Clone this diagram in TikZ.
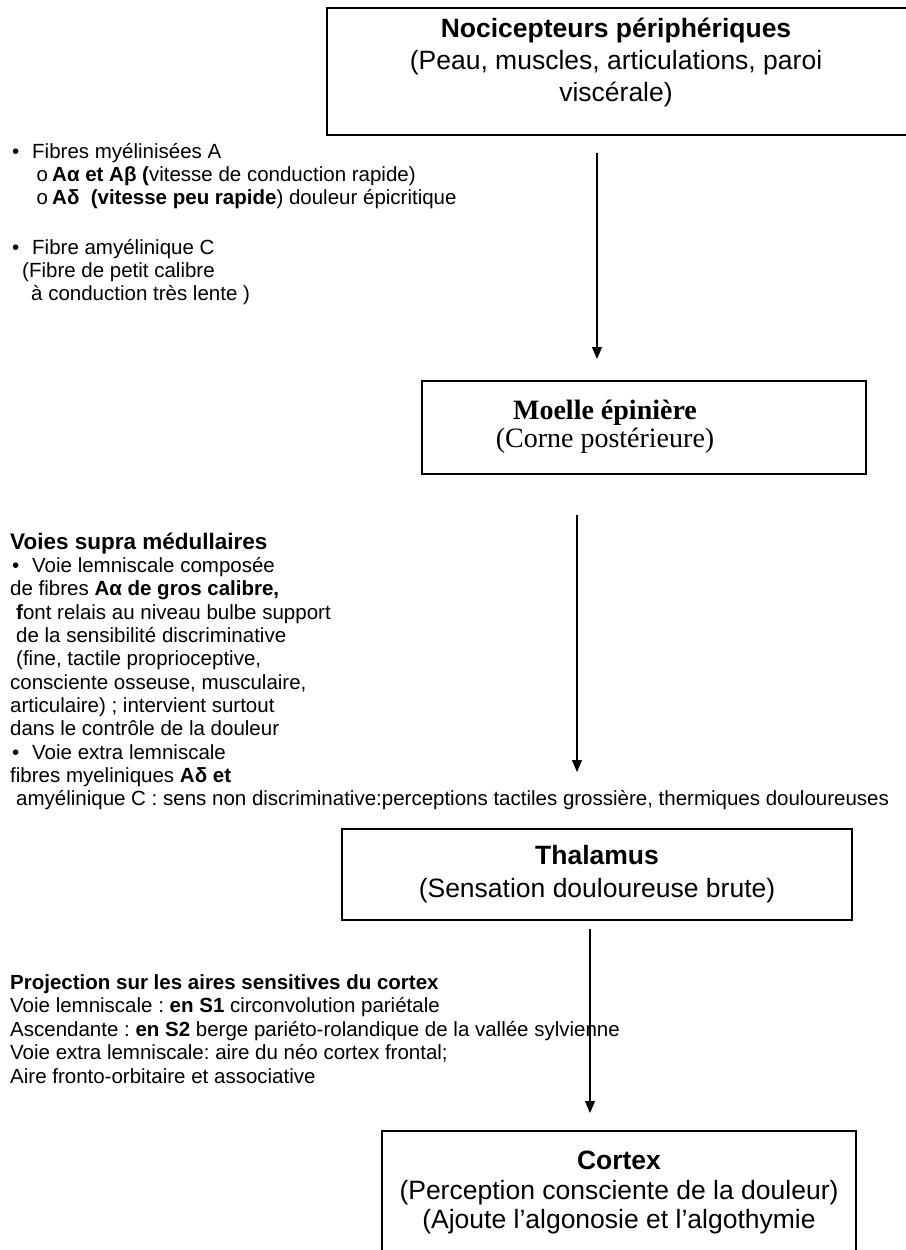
\documentclass[tikz,border=0pt]{standalone}
\usepackage{fontspec}
\setmainfont{Liberation Sans}
\newfontfamily\serifbox{Liberation Serif}
\newfontfamily\monobullet{Liberation Mono}
\usetikzlibrary{arrows.meta}
\frenchspacing

\begin{document}
\begin{tikzpicture}[x=1pt,y=-1pt,
  box/.style={draw, line width=1.6pt, inner sep=0pt, outer sep=0pt, anchor=north west},
  flow/.style={line width=1.2pt, -{Triangle[length=12pt,width=10pt]}},
  small/.style={anchor=base west, inner sep=0pt, font=\fontsize{20.5}{23}\selectfont},
  smallbold/.style={small, font=\bfseries\fontsize{20.5}{23}\selectfont},
  sub/.style={small, font=\monobullet\fontsize{20.5}{23}\selectfont},
  boxtxt/.style={anchor=base, inner sep=0pt, font=\fontsize{26.5}{30}\selectfont},
  moelletxt/.style={anchor=base, inner sep=0pt, font=\serifbox\fontsize{28}{28}\selectfont},
]
\useasboundingbox (0,0) rectangle (905,1250);

% ---- boxes of the pain pathway ----
\node[box, minimum width=583pt, minimum height=127pt] (noci) at (327,8) {};
\node[boxtxt, font=\bfseries\fontsize{26.5}{30}\selectfont] (nociT) at (616,37) {Nocicepteurs périphériques};
\node[boxtxt] (nociL1) at (616,69) {(Peau, muscles, articulations, paroi};
\node[boxtxt] (nociL2) at (616,101) {viscérale)};

\node[box, minimum width=444pt, minimum height=93pt] (moelle) at (422,381) {};
\node[moelletxt, font=\serifbox\bfseries\fontsize{28}{28}\selectfont] (moelleT) at (605,419) {Moelle épinière};
\node[moelletxt] (moelleL1) at (605,447) {(Corne postérieure)};

\node[box, minimum width=510pt, minimum height=91pt] (thal) at (342,829) {};
\node[boxtxt, font=\bfseries\fontsize{26.5}{30}\selectfont] (thalT) at (597,864) {Thalamus};
\node[boxtxt] (thalL1) at (597,897) {(Sensation douloureuse brute)};

\node[box, minimum width=474pt, minimum height=134pt] (cortex) at (382,1131) {};
\node[boxtxt, font=\bfseries\fontsize{26.5}{30}\selectfont] (cortexT) at (619,1169) {Cortex};
\node[boxtxt] (cortexL1) at (619,1199) {(Perception consciente de la douleur)};
\node[boxtxt] (cortexL2) at (619,1228) {(Ajoute l’algonosie et l’algothymie};

% ---- arrows between the levels ----
\coordinate (a1s) at (597,153);
\coordinate (a1e) at (597,359);
\coordinate (a2s) at (577,515);
\coordinate (a2e) at (577,772);
\coordinate (a3s) at (590,929);
\coordinate (a3e) at (590,1113);
\draw[flow] (a1s) -- (a1e);
\draw[flow] (a2s) -- (a2e);
\draw[flow] (a3s) -- (a3e);

% ---- peripheral fibres ----
\node[small] (bA) at (12,158) {•};
\node[small] (fA) at (32,158) {Fibres myélinisées A};
\node[sub] (oA1) at (36,181) {o};
\node[small] (fA1) at (52,181) {\textbf{Aα et Aβ (}vitesse de conduction rapide)};
\node[sub] (oA2) at (36,204) {o};
\node[small] (fA2) at (52,204) {\textbf{Aδ\ \ (vitesse peu rapide}) douleur épicritique};
\node[small] (bC) at (12,254) {•};
\node[small] (fC) at (32,254) {Fibre amyélinique C};
\node[small] (fC1) at (22,277) {(Fibre de petit calibre};
\node[small] (fC2) at (31,300) {à conduction très lente )};

% ---- ascending pathways ----
\node[smallbold, font=\bfseries\fontsize{22.5}{23}\selectfont] (vs) at (10,549) {Voies supra médullaires};
\node[small] (bL) at (12,572) {•};
\node[small] (vl1) at (32,572) {Voie lemniscale composée};
\node[small] (vl2) at (10,595) {de fibres \textbf{Aα de gros calibre,}};
\node[small] (vl3) at (16,619) {\textbf{f}ont relais au niveau bulbe support};
\node[small] (vl4) at (16,642) {de la sensibilité discriminative};
\node[small] (vl5) at (16,665) {(fine, tactile proprioceptive,};
\node[small] (vl6) at (10,689) {consciente osseuse, musculaire,};
\node[small] (vl7) at (10,712) {articulaire) ; intervient surtout};
\node[small] (vl8) at (10,735) {dans le contrôle de la douleur};
\node[small] (bE) at (12,759) {•};
\node[small] (ve1) at (32,759) {Voie extra lemniscale};
\node[small] (ve2) at (10,782) {fibres myeliniques \textbf{Aδ et}};
\node[small] (ve3) at (16,805) {amyélinique C : sens non discriminative:perceptions tactiles grossière, thermiques douloureuses};

% ---- cortical projection ----
\node[smallbold] (pj) at (10,989) {Projection sur les aires sensitives du cortex};
\node[small] (pj1) at (10,1012) {Voie lemniscale : \textbf{en S1} circonvolution pariétale};
\node[small] (pj2) at (10,1036) {Ascendante : \textbf{en S2} berge pariéto-rolandique de la vallée sylvienne};
\node[small] (pj3) at (10,1059) {Voie extra lemniscale: aire du néo cortex frontal;};
\node[small] (pj4) at (10,1083) {Aire fronto-orbitaire et associative};
\end{tikzpicture}
\end{document}
